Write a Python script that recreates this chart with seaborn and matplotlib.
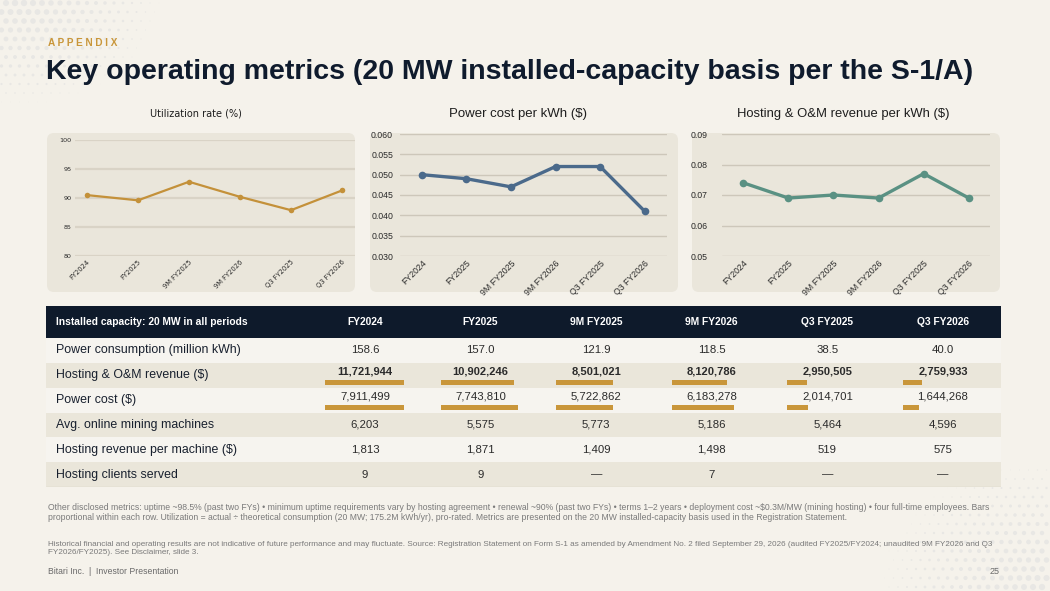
import numpy as np
import pandas as pd
import seaborn as sns
import matplotlib.pyplot as plt
from matplotlib.patches import FancyBboxPatch, Rectangle

sns.set_theme(style="white")
plt.rcParams["font.family"] = ["Liberation Sans", "DejaVu Sans"]

# ---- data ----
periods = ["FY2024", "FY2025", "9M FY2025", "9M FY2026", "Q3 FY2025", "Q3 FY2026"]
utilization = [90.5, 89.6, 92.8, 90.2, 87.9, 91.3]
power_cost_kwh = [0.050, 0.049, 0.047, 0.052, 0.052, 0.041]
revenue_kwh = [0.074, 0.069, 0.070, 0.069, 0.077, 0.069]

table_title = "Installed capacity: 20 MW in all periods"
row_labels = [
    "Power consumption (million kWh)",
    "Hosting & O&M revenue ($)",
    "Power cost ($)",
    "Avg. online mining machines",
    "Hosting revenue per machine ($)",
    "Hosting clients served",
]
power_consumption = [158.6, 157.0, 121.9, 118.5, 38.5, 40.0]
hosting_revenue = [11721944, 10902246, 8501021, 8120786, 2950505, 2759933]
power_cost = [7911499, 7743810, 5722862, 6183278, 2014701, 1644268]
avg_machines = [6203, 5575, 5773, 5186, 5464, 4596]
revenue_per_machine = [1813, 1871, 1409, 1498, 519, 575]
clients_served = [9, 9, None, 7, None, None]

note_1 = ("Other disclosed metrics: uptime ~98.5% (past two FYs) \u2022 minimum uptime requirements vary by hosting "
          "agreement \u2022 renewal ~90% (past two FYs) \u2022 terms 1\u20132 years \u2022 deployment cost ~$0.3M/MW "
          "(mining hosting) \u2022 four full-time employees. Bars\nproportional within each row. Utilization = actual "
          "\u00f7 theoretical consumption (20 MW; 175.2M kWh/yr), pro-rated. Metrics are presented on the 20 MW "
          "installed-capacity basis used in the Registration Statement.")
note_2 = ("Historical financial and operating results are not indicative of future performance and may fluctuate. "
          "Source: Registration Statement on Form S-1 as amended by Amendment No. 2 filed September 29, 2026 "
          "(audited FY2025/FY2024; unaudited 9M FY2026 and Q3\nFY2026/FY2025). See Disclaimer, slide 3.")

# ---- style ----
W, H = 1050, 591
BG = "#F5F2EB"
PANEL = "#EAE6DB"
NAVY = "#0E1A2B"
GOLD = "#C9963A"
SHADE = "#EAE6DA"
TEXT = "#2B2B2B"

fig = plt.figure(figsize=(W / 100, H / 100), dpi=100)
fig.patch.set_facecolor(BG)


def px_axes(x0, y0, x1, y1):
    return fig.add_axes([x0 / W, 1 - y1 / H, (x1 - x0) / W, (y1 - y0) / H])


bg = px_axes(0, 0, W, H)
bg.set_xlim(0, W)
bg.set_ylim(H, 0)
bg.axis("off")

# halftone dots in two corners
for cx, cy, rx, ry in [(20, 0, 140, 105), (1050, 591, 170, 130)]:
    gx, gy = np.meshgrid(np.arange(cx - rx, cx + rx, 9.0), np.arange(cy - ry, cy + ry, 9.0))
    gx[1::2] += 4.5
    fade = 1 - np.hypot((gx - cx) / rx, (gy - cy) / ry)
    keep = (fade > 0) & (gx >= 0) & (gx <= W) & (gy >= 0) & (gy <= H)
    bg.scatter(gx[keep], gy[keep], s=22 * fade[keep] ** 1.3, color="#E8E7E4", lw=0, zorder=0)

# header
bg.text(48, 43, "A P P E N D I X", color=GOLD, fontsize=7.2, fontweight="bold", va="center")
bg.text(46, 72, "Key operating metrics (20 MW installed-capacity basis per the S-1/A)",
        color="#0F1B2D", fontsize=20.5, fontweight="bold", va="center")


def line_panel(values, box, axbox, xlim, ylim, yticks, fmt, color, title, title_x,
               lw, ms, xsize, ysize, grid_lw, grid_color, ypad, title_font, title_size):
    x0, y0, x1, y1 = box
    bg.add_patch(FancyBboxPatch((x0, y0), x1 - x0, y1 - y0,
                                boxstyle="round,pad=0,rounding_size=7", fc=PANEL, ec="none", zorder=1))
    bg.text(title_x, 114, title, ha="center", va="center", fontsize=title_size,
            color="#1E1E1E", family=title_font)
    ax = px_axes(*axbox)
    ax.set_facecolor("none")
    df = pd.DataFrame({"period": periods, "value": values})
    sns.lineplot(data=df, x="period", y="value", ax=ax, color=color, lw=lw, marker="o",
                 markersize=ms, markeredgewidth=0, sort=False)
    ax.set_xlim(*xlim)
    ax.set_ylim(*ylim)
    ax.set_yticks(yticks)
    ax.set_yticklabels([fmt.format(v) for v in yticks])
    ax.grid(axis="y", color=grid_color, lw=grid_lw)
    ax.grid(axis="x", visible=False)
    ax.set_axisbelow(True)
    sns.despine(ax=ax, left=True, bottom=True)
    ax.set_xlabel("")
    ax.set_ylabel("")
    ax.tick_params(axis="both", length=0, colors="#2A2A2A")
    ax.tick_params(axis="y", pad=ypad, labelsize=ysize)
    ax.tick_params(axis="x", pad=2, labelsize=xsize)
    for lab in ax.get_xticklabels() + ax.get_yticklabels():
        lab.set_family(title_font)
    plt.setp(ax.get_xticklabels(), rotation=45, ha="right", va="top", rotation_mode="anchor")
    return ax


line_panel(utilization, (47, 133, 355, 292), (75, 140, 355, 256), (-0.235, 5.255), (80, 100),
           [80, 85, 90, 95, 100], "{:.0f}", "#C4913A", "Utilization rate (%)", 196,
           1.6, 4, 4.9, 4.6, 1.6, "#D9D3C6", 2.5, "DejaVu Sans", 7)
line_panel(power_cost_kwh, (370, 133, 678, 292), (400, 134, 667, 256), (-0.49, 5.5), (0.030, 0.060),
           [0.030, 0.035, 0.040, 0.045, 0.050, 0.055, 0.060], "{:.3f}", "#4B6A8B",
           "Power cost per kWh ($)", 518, 2.4, 5.5, 6.3, 6.3, 1.0, "#CDC7BA", 5, "Liberation Sans", 9.5)
line_panel(revenue_kwh, (692, 133, 1000, 292), (722, 134, 990, 256), (-0.47, 5.47), (0.05, 0.09),
           [0.05, 0.06, 0.07, 0.08, 0.09], "{:.2f}", "#5A9183",
           "Hosting & O&M revenue per kWh ($)", 843, 2.4, 5.5, 6.3, 6.3, 1.0, "#CDC7BA", 10,
           "Liberation Sans", 9.4)

# ---- table ----
tx0, tx1, ty0, ty1 = 46, 1001, 306, 487
tab = px_axes(tx0, ty0, tx1, ty1)
tab.set_xlim(tx0, tx1)
tab.set_ylim(ty1, ty0)
tab.axis("off")

head_h = 32
row_h = (ty1 - ty0 - head_h) / len(row_labels)
col_x = [365 + 115.6 * i for i in range(len(periods))]
bar_max = 79

tab.add_patch(Rectangle((tx0, ty0), tx1 - tx0, head_h, fc=NAVY, ec="none"))
tab.text(56, ty0 + head_h / 2, table_title, color="white", fontsize=7.4, fontweight="bold", va="center")
for cx, p in zip(col_x, periods):
    tab.text(cx, ty0 + head_h / 2, p, color="white", fontsize=7.4, fontweight="bold", va="center", ha="center")

rows = [
    ([f"{v:.1f}" for v in power_consumption], None, "normal"),
    ([f"{v:,}" for v in hosting_revenue], hosting_revenue, "bold"),
    ([f"{v:,}" for v in power_cost], power_cost, "normal"),
    ([f"{v:,}" for v in avg_machines], None, "normal"),
    ([f"{v:,}" for v in revenue_per_machine], None, "normal"),
    (["\u2014" if v is None else str(v) for v in clients_served], None, "normal"),
]

for i, (label, (cells, bars, weight)) in enumerate(zip(row_labels, rows)):
    top = ty0 + head_h + i * row_h
    mid = top + row_h / 2
    tab.add_patch(Rectangle((tx0, top), tx1 - tx0, row_h, fc=SHADE if i % 2 else "#F6F4EF", ec="none"))
    tab.text(56, mid, label, color="#18202E", fontsize=8.9, va="center")
    ytxt = mid - 3.5 if bars else mid
    for cx, c in zip(col_x, cells):
        tab.text(cx, ytxt, c, color=TEXT, fontsize=8.2 if weight == "normal" else 8.0,
                 va="center", ha="center", fontweight=weight)
    if bars:
        widths = [v / max(bars) * bar_max for v in bars]
        tab.barh([mid + 7] * len(bars), widths, left=[cx - 40 for cx in col_x], height=5,
                 color=GOLD, lw=0)
tab.plot([tx0, tx1], [ty1 - 0.5, ty1 - 0.5], color="#D8D2C4", lw=1)

# ---- notes ----
bg.text(48, 512.5, note_1, fontsize=6.25, color="#7A7A7A", va="center", linespacing=1.25)
bg.text(48, 548.5, note_2, fontsize=5.85, color="#7A7A7A", va="center", linespacing=1.35)
bg.text(48, 571, "Bitari Inc.  |  Investor Presentation", fontsize=6.2, color="#6A6A6A", va="center")
bg.text(1000, 571, "25", fontsize=6.5, color="#6A6A6A", va="center", ha="right")

fig.savefig("out.png", dpi=100, facecolor=BG)
